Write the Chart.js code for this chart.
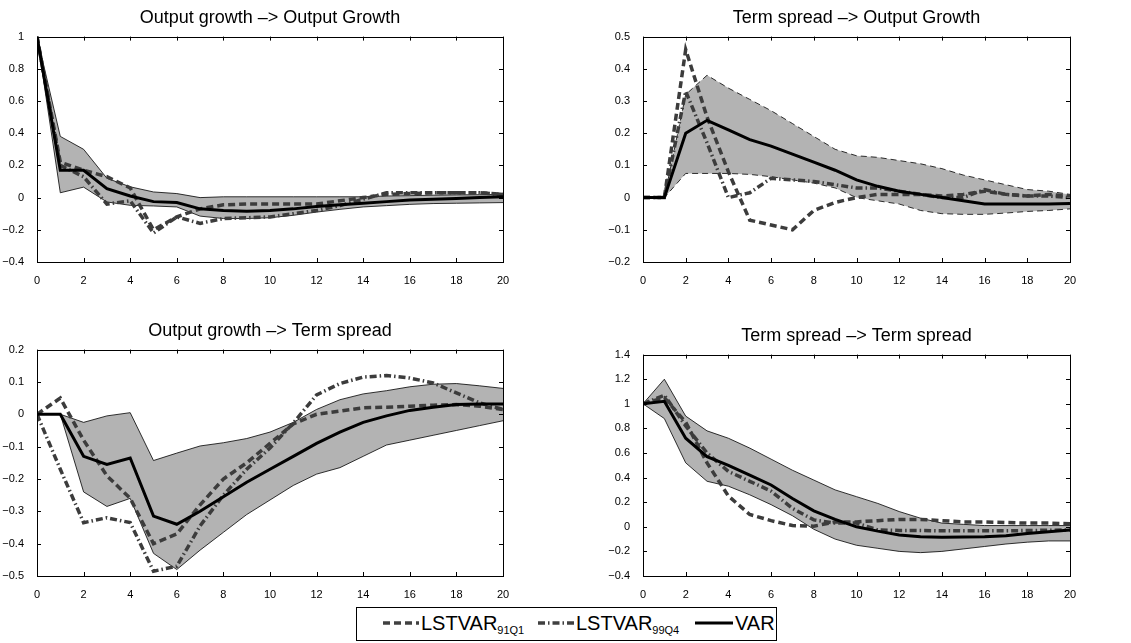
<!DOCTYPE html>
<html>
<head>
<meta charset="utf-8">
<script src="https://cdn.jsdelivr.net/npm/chart.js@4"></script>
<style>
  body { margin: 0; background: #fff; font-family: "Liberation Sans", Arial, sans-serif; }
  #wrap { position: relative; width: 1131px; height: 643px; overflow: hidden; }
  canvas { position: absolute; }
  #legend { position: absolute; left: 356px; top: 607px; width: 421px; height: 34px; border: 1px solid #000; box-sizing: border-box; }
  .item { position: absolute; top: 0; height: 30px; display: flex; align-items: center; font-size: 20px; color: #000; white-space: nowrap; }
  .item svg { margin-right: 2px; }
  .item .sub { font-size: 11px; position: relative; top: 7px; }
</style>
</head>
<body>
<div id="wrap">
  <canvas id="c1" width="514" height="287" style="left:1px;top:0px"></canvas>
  <canvas id="c2" width="479" height="287" style="left:603px;top:0px"></canvas>
  <canvas id="c3" width="514" height="288" style="left:1px;top:313px"></canvas>
  <canvas id="c4" width="479" height="283" style="left:603px;top:318px"></canvas>
  <div id="legend">
    <div class="item" style="left:26px"><svg width="36" height="10"><line x1="0" y1="5" x2="36" y2="5" stroke="#404040" stroke-width="3.5" stroke-dasharray="7 4"/></svg><span>LSTVAR</span><span class="sub">91Q1</span></div>
    <div class="item" style="left:181px"><svg width="36" height="10"><line x1="0" y1="5" x2="36" y2="5" stroke="#404040" stroke-width="3.5" stroke-dasharray="7 3 1.5 3"/></svg><span>LSTVAR</span><span class="sub">99Q4</span></div>
    <div class="item" style="left:338px"><svg width="38" height="10"><line x1="0" y1="5" x2="38" y2="5" stroke="#000" stroke-width="3"/></svg><span>VAR</span></div>
  </div>
</div>
<script>
// horizons
const horizons = [0,1,2,3,4,5,6,7,8,9,10,11,12,13,14,15,16,17,18,19,20];

// Output growth -> Output Growth
const gg_var = [1.0,0.17,0.17,0.055,0.01,-0.025,-0.03,-0.07,-0.08,-0.085,-0.08,-0.07,-0.055,-0.045,-0.035,-0.025,-0.015,-0.01,-0.005,0.0,0.005];
const gg_hi  = [1.0,0.38,0.30,0.12,0.067,0.035,0.025,0.0,0.005,0.005,0.005,0.005,0.005,0.005,0.005,0.01,0.012,0.015,0.017,0.018,0.02];
const gg_lo  = [1.0,0.03,0.065,-0.027,-0.048,-0.052,-0.058,-0.115,-0.13,-0.13,-0.125,-0.11,-0.09,-0.073,-0.058,-0.05,-0.042,-0.037,-0.035,-0.033,-0.031];
const gg_91  = [1.0,0.22,0.17,0.13,0.06,-0.2,-0.12,-0.07,-0.045,-0.04,-0.04,-0.04,-0.04,-0.02,0.0,0.02,0.025,0.03,0.03,0.03,0.02];
const gg_99  = [1.0,0.2,0.13,-0.04,-0.02,-0.22,-0.12,-0.16,-0.13,-0.125,-0.12,-0.1,-0.08,-0.05,-0.01,0.03,0.03,0.03,0.03,0.03,0.02];

// Term spread -> Output Growth
const sg_var = [0,0,0.2,0.24,0.21,0.18,0.16,0.135,0.11,0.085,0.055,0.035,0.02,0.01,0.0,-0.01,-0.02,-0.02,-0.02,-0.02,-0.018];
const sg_hi  = [0,0,0.32,0.38,0.34,0.305,0.27,0.23,0.19,0.15,0.13,0.125,0.115,0.105,0.09,0.07,0.055,0.04,0.025,0.02,0.01];
const sg_lo  = [0,0,0.075,0.075,0.075,0.072,0.065,0.055,0.045,0.03,0.0,-0.01,-0.02,-0.04,-0.05,-0.052,-0.052,-0.048,-0.043,-0.04,-0.035];
const sg_91  = [0,0,0.46,0.25,0.08,-0.07,-0.085,-0.1,-0.04,-0.015,0.0,0.01,0.01,0.01,0.005,0.01,0.02,0.01,0.005,0.01,0.005];
const sg_99  = [0,0,0.33,0.17,0.0,0.015,0.06,0.055,0.05,0.04,0.03,0.03,0.02,0.01,0.0,0.0,0.025,0.01,0.005,0.005,0.0];

// Output growth -> Term spread
const gs_var = [0,0,-0.13,-0.155,-0.135,-0.315,-0.34,-0.3,-0.255,-0.21,-0.17,-0.13,-0.09,-0.055,-0.025,-0.005,0.012,0.022,0.03,0.032,0.032];
const gs_hi  = [0,0,-0.025,-0.005,0.005,-0.143,-0.12,-0.098,-0.088,-0.075,-0.055,-0.025,0.015,0.045,0.063,0.073,0.085,0.093,0.095,0.088,0.08];
const gs_lo  = [0,0,-0.24,-0.285,-0.26,-0.43,-0.48,-0.42,-0.365,-0.31,-0.265,-0.22,-0.185,-0.165,-0.13,-0.095,-0.08,-0.065,-0.05,-0.035,-0.02];
const gs_91  = [0,0.05,-0.08,-0.19,-0.26,-0.4,-0.37,-0.28,-0.2,-0.15,-0.09,-0.03,0.0,0.01,0.02,0.022,0.025,0.028,0.03,0.025,0.015];
const gs_99  = [0,-0.17,-0.335,-0.32,-0.335,-0.485,-0.47,-0.345,-0.25,-0.17,-0.104,-0.027,0.06,0.095,0.115,0.12,0.112,0.097,0.066,0.035,0.015];

// Term spread -> Term spread
const ss_var = [1.0,1.02,0.72,0.57,0.5,0.42,0.34,0.23,0.13,0.06,0.0,-0.035,-0.066,-0.08,-0.085,-0.083,-0.08,-0.072,-0.055,-0.04,-0.025];
const ss_hi  = [1.0,1.2,0.9,0.78,0.72,0.64,0.55,0.46,0.38,0.3,0.245,0.19,0.124,0.07,0.03,0.02,0.01,0.01,0.01,0.01,0.01];
const ss_lo  = [1.0,0.88,0.52,0.37,0.33,0.26,0.18,0.09,-0.02,-0.1,-0.15,-0.175,-0.2,-0.21,-0.2,-0.18,-0.16,-0.14,-0.125,-0.115,-0.115];
const ss_91  = [1.0,1.05,0.85,0.52,0.25,0.1,0.05,0.01,0.005,0.04,0.04,0.05,0.06,0.06,0.05,0.04,0.04,0.035,0.03,0.03,0.025];
const ss_99  = [1.0,1.07,0.82,0.6,0.45,0.37,0.29,0.15,0.056,0.03,0.03,-0.025,-0.03,-0.03,-0.033,-0.033,-0.033,-0.033,-0.03,-0.028,-0.025];

// matlab-like box with inward ticks
const boxTicks = {
  id: 'boxTicks',
  afterDatasetsDraw(chart) {
    const { ctx, chartArea: a, scales: { x, y } } = chart;
    ctx.save();
    ctx.strokeStyle = '#000';
    ctx.lineWidth = 1;
    ctx.beginPath();
    x.ticks.forEach(t => {
      const px = Math.round(x.getPixelForValue(t.value)) + 0.5;
      ctx.moveTo(px, a.bottom); ctx.lineTo(px, a.bottom - 4);
      ctx.moveTo(px, a.top); ctx.lineTo(px, a.top + 4);
    });
    y.ticks.forEach(t => {
      const py = Math.round(y.getPixelForValue(t.value)) + 0.5;
      ctx.moveTo(a.left, py); ctx.lineTo(a.left + 4, py);
      ctx.moveTo(a.right, py); ctx.lineTo(a.right - 4, py);
    });
    ctx.stroke();
    ctx.strokeRect(Math.round(a.left) + 0.5, Math.round(a.top) + 0.5, Math.round(a.width), Math.round(a.height));
    ctx.restore();
  }
};

const fmt = v => {
  const r = Math.round(v * 10) / 10;
  return (r < 0 ? '\u2212' : '') + Math.abs(r);
};

function panel(id, title, vals, lo, hi, l91, l99, ymin, ymax, step, yw, bandDash) {
  new Chart(document.getElementById(id), {
    type: 'line',
    data: {
      labels: horizons,
      datasets: [
        { data: vals, borderColor: '#000', borderWidth: 3, fill: false },
        { data: l99, borderColor: '#3c3c3c', borderWidth: 3.5, borderDash: [7, 3, 1.5, 3], fill: false },
        { data: l91, borderColor: '#3c3c3c', borderWidth: 3.5, borderDash: [7, 4], fill: false },
        { data: hi, borderColor: '#000', borderWidth: 0.8, borderDash: bandDash, fill: false },
        { data: lo, borderColor: '#000', borderWidth: 0.8, borderDash: bandDash, fill: '-1', backgroundColor: '#b3b3b3' }
      ]
    },
    options: {
      responsive: false,
      animation: false,
      layout: { padding: { left: 0, right: 12, top: 0, bottom: 0 } },
      elements: { point: { radius: 0 }, line: { tension: 0 } },
      plugins: {
        legend: { display: false },
        tooltip: { enabled: false },
        title: {
          display: true, text: title, fullSize: false, color: '#000',
          font: { family: 'Liberation Sans', size: 18, weight: 'normal' },
          padding: { top: 7, bottom: 8 }
        }
      },
      scales: {
        x: {
          type: 'linear', min: 0, max: 20,
          ticks: { stepSize: 2, color: '#000', padding: 4, font: { family: 'Liberation Sans', size: 11 } },
          grid: { display: false },
          border: { display: false },
          afterFit: s => { s.height = 25; }
        },
        y: {
          min: ymin, max: ymax,
          ticks: { stepSize: step, color: '#000', padding: 5, callback: fmt, font: { family: 'Liberation Sans', size: 11 } },
          grid: { display: false },
          border: { display: false },
          afterFit: s => { s.width = yw; }
        }
      }
    },
    plugins: [boxTicks]
  });
}

panel('c1', 'Output growth \u2013> Output Growth', gg_var, gg_lo, gg_hi, gg_91, gg_99, -0.4, 1, 0.2, 36, []);
panel('c2', 'Term spread \u2013> Output Growth', sg_var, sg_lo, sg_hi, sg_91, sg_99, -0.2, 0.5, 0.1, 40, [6, 4]);
panel('c3', 'Output growth \u2013> Term spread', gs_var, gs_lo, gs_hi, gs_91, gs_99, -0.5, 0.2, 0.1, 36, []);
panel('c4', 'Term spread \u2013> Term spread', ss_var, ss_lo, ss_hi, ss_91, ss_99, -0.4, 1.4, 0.2, 40, []);
</script>
</body>
</html>
